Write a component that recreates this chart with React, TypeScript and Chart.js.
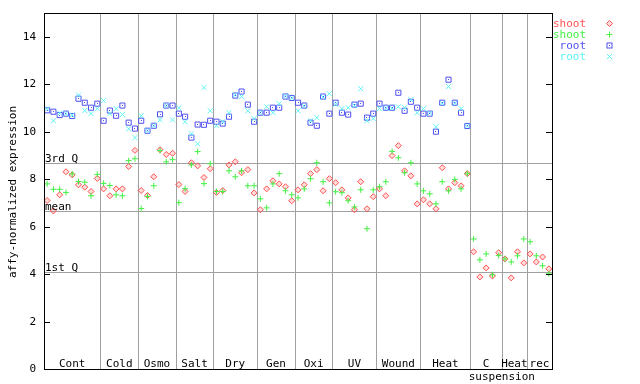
import React, { useEffect, useRef } from 'react';
import { Chart, registerables } from 'chart.js';

Chart.register(...registerables);

// ---- data ----
const groupLabels = ['Cont', 'Cold', 'Osmo', 'Salt', 'Dry', 'Gen', 'Oxi', 'UV', 'Wound', 'Heat', 'C', 'Heat', 'rec'];
const groupSizes = [9, 6, 6, 6, 7, 6, 6, 7, 7, 8, 5, 4, 4];
const subLabel = 'suspension';
const subLabelAt = 73; // sample boundary under which the second line label sits
const yTicks = [0, 2, 4, 6, 8, 10, 12, 14];
const refLabels = ['3rd Q', 'mean', '1st Q'];
const refValues = [8.69, 6.64, 4.09];
const seriesNames = ['shoot', 'shoot', 'root', 'root'];
const yTitle = 'affy-normalized expression';

const shoot1 = [
  7.10, 6.66, 7.34, 8.31, 8.18, 7.76, 7.66, 7.48, 8.03,
  7.59, 7.30, 7.59, 7.59, 8.53, 9.21,
  7.52, 7.31, 8.10, 9.24, 9.04, 9.09,
  7.77, 7.48, 8.69, 8.56, 8.07, 8.44,
  7.44, 7.52, 8.60, 8.73, 8.27, 8.40, 7.42,
  6.71, 7.59, 7.93, 7.80, 7.68, 7.09,
  7.55, 7.76, 8.23, 8.40, 7.51, 8.02,
  7.85, 7.55, 7.21, 6.71, 7.89, 6.75, 7.26,
  7.59, 7.30, 8.99, 9.41, 8.35, 8.14, 6.96,
  7.13, 6.96, 6.75, 8.48, 7.59, 7.85, 7.72, 8.23,
  4.94, 3.88, 4.26, 3.92, 4.90,
  4.64, 3.84, 4.94, 4.47,
  4.85, 4.51, 4.72, 4.22,
];
const shoot2 = [
  7.80, 7.57, 7.57, 7.44, 8.22, 7.90, 7.87, 7.30, 8.20,
  7.82, 7.73, 7.34, 7.30, 8.78, 8.86,
  6.76, 7.27, 7.72, 9.20, 8.73, 8.82,
  7.01, 7.60, 8.60, 9.16, 7.81, 8.65,
  7.48, 7.48, 8.35, 8.10, 8.35, 7.72, 7.72,
  7.17, 6.79, 7.80, 8.23, 7.51, 7.34,
  7.21, 7.59, 8.02, 8.69, 7.89, 7.00,
  7.47, 7.43, 7.09, 6.83, 7.55, 5.91, 7.55,
  7.68, 7.89, 9.17, 8.90, 8.27, 8.69, 7.80,
  7.51, 7.38, 6.96, 7.89, 7.51, 7.99, 7.59, 8.23,
  5.48, 4.60, 4.85, 3.97, 4.78,
  4.64, 4.51, 4.77, 5.48,
  5.36, 4.77, 4.35, 4.01,
];
// root samples exist only for the first 68 conditions (none for suspension culture)
const root1 = [
  10.90, 10.84, 10.70, 10.76, 10.66, 11.39, 11.22, 11.01, 11.18,
  10.46, 10.89, 10.67, 11.10, 10.38, 10.13,
  10.46, 10.04, 10.25, 10.73, 11.10, 11.10,
  10.76, 10.63, 9.75, 10.30, 10.29, 10.46,
  10.42, 10.34, 10.63, 11.52, 11.69, 11.14, 10.42,
  10.80, 10.80, 11.01, 11.01, 11.48, 11.42,
  11.22, 11.10, 10.38, 10.25, 11.48, 10.76,
  11.22, 10.80, 10.72, 11.14, 11.18, 10.59, 10.76,
  11.18, 11.01, 11.01, 11.64, 10.88, 11.26, 11.01,
  10.76, 10.76, 10.00, 11.22, 12.19, 11.22, 10.80, 10.24,
];
const root2 = [
  10.97, 10.46, 10.78, 10.76, 10.70, 11.54, 10.89, 10.76, 10.97,
  11.31, 10.76, 10.97, 10.72, 10.12, 9.75,
  10.67, 10.04, 10.25, 10.50, 11.10, 10.50,
  11.01, 10.42, 9.91, 9.49, 11.86, 10.88,
  10.25, 10.42, 10.80, 11.55, 11.48, 10.88, 10.55,
  10.80, 11.05, 10.80, 11.18, 11.50, 11.42,
  10.88, 11.08, 10.46, 10.59, 11.46, 11.60,
  11.15, 10.97, 11.01, 11.10, 11.81, 10.46, 10.55,
  10.97, 11.00, 11.00, 11.05, 11.01, 11.35, 10.80,
  10.97, 10.78, 10.21, 11.20, 11.90, 11.20, 10.97, 10.24,
];

// ---- styles ----
const RED = '#ff5050';
const GREEN = '#44f044';
const BLUE = '#5050f0';
const CYAN = '#5cf4f4';
const GRID = '#a0a0a0';
const FONT = '11px "DejaVu Sans Mono", "Liberation Mono", monospace';

const totalSamples = groupSizes.reduce((s, n) => s + n, 0);
const toPoints = (arr: number[]) => arr.map((v, i) => ({ x: i + 0.5, y: v }));

function drawMarker(ctx: CanvasRenderingContext2D, kind: number, x: number, y: number) {
  ctx.save();
  ctx.lineWidth = 1;
  if (kind === 0) {
    ctx.strokeStyle = RED;
    ctx.fillStyle = 'rgba(255,80,80,0.2)';
    ctx.beginPath();
    ctx.moveTo(x, y - 3); ctx.lineTo(x + 3, y); ctx.lineTo(x, y + 3); ctx.lineTo(x - 3, y); ctx.closePath();
    ctx.fill(); ctx.stroke();
  } else if (kind === 1) {
    ctx.strokeStyle = GREEN;
    ctx.beginPath();
    ctx.moveTo(x - 3, y); ctx.lineTo(x + 3, y); ctx.moveTo(x, y - 3); ctx.lineTo(x, y + 3);
    ctx.stroke();
  } else if (kind === 2) {
    ctx.strokeStyle = BLUE;
    ctx.strokeRect(x - 2.5, y - 2.5, 5, 5);
    ctx.fillStyle = BLUE;
    ctx.fillRect(x - 0.5, y - 0.5, 1, 1);
  } else {
    ctx.strokeStyle = CYAN;
    ctx.beginPath();
    ctx.moveTo(x - 2.5, y - 2.5); ctx.lineTo(x + 2.5, y + 2.5); ctx.moveTo(x + 2.5, y - 2.5); ctx.lineTo(x - 2.5, y + 2.5);
    ctx.stroke();
  }
  ctx.restore();
}

const decor = {
  id: 'decor',
  beforeDatasetsDraw(chart: any) {
    const { ctx, chartArea: a, scales } = chart;
    const x = scales.x, y = scales.y;
    ctx.save();
    ctx.strokeStyle = GRID;
    ctx.lineWidth = 1;
    let acc = 0;
    groupSizes.forEach((n, k) => {
      acc += n;
      if (k < groupSizes.length - 1) {
        const px = Math.round(x.getPixelForValue(acc)) + 0.5;
        ctx.beginPath(); ctx.moveTo(px, a.top); ctx.lineTo(px, a.bottom); ctx.stroke();
      }
    });
    refValues.forEach((v) => {
      const py = Math.round(y.getPixelForValue(v)) + 0.5;
      ctx.beginPath(); ctx.moveTo(a.left, py); ctx.lineTo(a.right, py); ctx.stroke();
    });
    ctx.restore();
  },
  afterDatasetsDraw(chart: any) {
    const { ctx, chartArea: a, scales } = chart;
    const x = scales.x, y = scales.y;
    ctx.save();
    // centre dots of the root squares
    ctx.fillStyle = BLUE;
    chart.getDatasetMeta(2).data.forEach((p: any) => ctx.fillRect(Math.round(p.x - 0.5), Math.round(p.y - 0.5), 1, 1));

    // frame
    ctx.strokeStyle = '#000';
    ctx.lineWidth = 1;
    ctx.strokeRect(a.left + 0.5, a.top + 0.5, a.right - a.left, a.bottom - a.top);

    // y ticks + labels
    ctx.font = FONT;
    ctx.fillStyle = '#000';
    ctx.textAlign = 'right';
    ctx.textBaseline = 'middle';
    yTicks.forEach((t) => {
      const py = Math.round(y.getPixelForValue(t)) + 0.5;
      ctx.beginPath();
      ctx.moveTo(a.left, py); ctx.lineTo(a.left + 6, py);
      ctx.moveTo(a.right, py); ctx.lineTo(a.right - 6, py);
      ctx.stroke();
      ctx.fillText(String(t), a.left - 8, py);
    });

    // reference line labels
    ctx.textAlign = 'left';
    ctx.textBaseline = 'alphabetic';
    refValues.forEach((v, k) => {
      const py = Math.round(y.getPixelForValue(v));
      ctx.fillText(refLabels[k], a.left + 1, py - 1);
    });

    // group labels
    ctx.textAlign = 'center';
    let start = 0;
    groupSizes.forEach((n, k) => {
      const cx = x.getPixelForValue(start + n / 2);
      ctx.fillText(groupLabels[k], cx, a.bottom - 2);
      start += n;
    });
    ctx.fillText(subLabel, x.getPixelForValue(subLabelAt), a.bottom + 10.5);

    // y title
    ctx.save();
    ctx.translate(13, 192);
    ctx.rotate(-Math.PI / 2);
    ctx.textAlign = 'center';
    ctx.textBaseline = 'middle';
    ctx.fillText(yTitle, 0, 0);
    ctx.restore();

    // legend
    const colors = [RED, GREEN, BLUE, CYAN];
    ctx.textAlign = 'right';
    ctx.textBaseline = 'alphabetic';
    seriesNames.forEach((name, k) => {
      const by = 27 + k * 11;
      ctx.fillStyle = colors[k];
      ctx.fillText(name, 586, by);
      drawMarker(ctx, k, 609.5, by - 3.5);
    });
    ctx.restore();
  },
};

export default function App() {
  const ref = useRef<HTMLCanvasElement | null>(null);
  useEffect(() => {
    if (!ref.current) return;
    const chart = new Chart(ref.current, {
      type: 'scatter',
      data: {
        datasets: [
          {
            label: seriesNames[0], data: toPoints(shoot1), pointStyle: 'rectRot', pointRadius: 3,
            borderColor: RED, backgroundColor: 'rgba(255,80,80,0.2)', borderWidth: 1, order: 3,
          },
          {
            label: seriesNames[1], data: toPoints(shoot2), pointStyle: 'cross', pointRadius: 3,
            borderColor: GREEN, backgroundColor: GREEN, borderWidth: 1, order: 2,
          },
          {
            label: seriesNames[2], data: toPoints(root1), pointStyle: 'rect', pointRadius: 3.6,
            borderColor: BLUE, backgroundColor: 'rgba(0,0,0,0)', borderWidth: 1, order: 1,
          },
          {
            label: seriesNames[3], data: toPoints(root2), pointStyle: 'crossRot', pointRadius: 3.5,
            borderColor: CYAN, backgroundColor: CYAN, borderWidth: 1, order: 0,
          },
        ],
      } as any,
      options: {
        responsive: false,
        animation: false,
        devicePixelRatio: 1,
        events: [],
        layout: { padding: { left: 44, right: 88, top: 13, bottom: 15 } },
        plugins: { legend: { display: false }, tooltip: { enabled: false } },
        scales: {
          x: { type: 'linear', min: 0, max: totalSamples, display: false },
          y: { type: 'linear', min: 0, max: 15, display: false },
        },
      },
      plugins: [decor],
    });
    return () => chart.destroy();
  }, []);
  return (
    <div style={{ position: 'absolute', left: 0, top: 0, width: 640, height: 384, background: '#fff' }}>
      <canvas ref={ref} width={640} height={384} style={{ display: 'block' }} />
    </div>
  );
}
